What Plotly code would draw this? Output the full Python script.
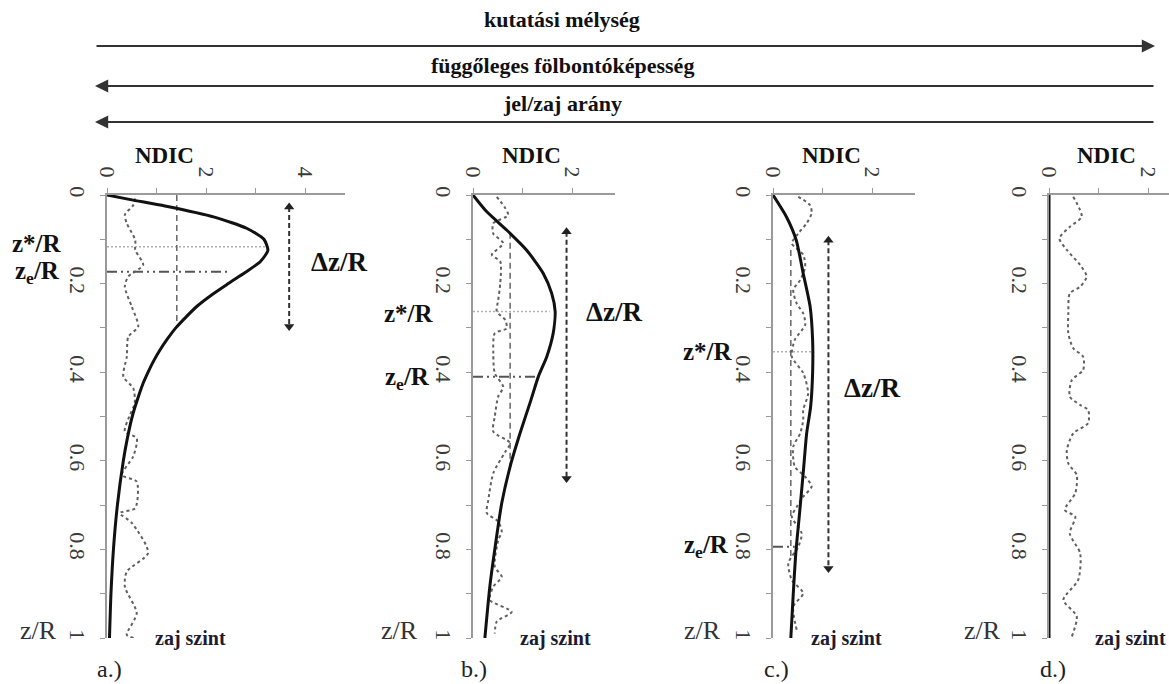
import plotly.graph_objects as go

# ---------------- data (z/R depth vs NDIC) ----------------
# a.) shallow, sharp anomaly
a_z = [0, 0.011, 0.025, 0.05, 0.075, 0.1, 0.125, 0.15, 0.175, 0.2, 0.225, 0.25,
       0.275, 0.3, 0.325, 0.35, 0.375, 0.4, 0.425, 0.45, 0.5, 0.55, 0.6, 0.7, 0.8,
       0.9, 1.0]
a_sig = [0, 0.5, 1.17, 2.17, 2.82, 3.17, 3.25, 3.10, 2.79, 2.45, 2.12, 1.83,
         1.60, 1.39, 1.22, 1.07, 0.94, 0.83, 0.73, 0.65, 0.51, 0.41, 0.33, 0.21, 0.13,
         0.08, 0.05]
a_noise_z = [0.008, 0.023, 0.045, 0.064, 0.102, 0.124, 0.158, 0.184, 0.207, 0.252,
             0.297, 0.32, 0.365, 0.41, 0.436, 0.47, 0.50, 0.534, 0.549, 0.59,
             0.632, 0.647, 0.707, 0.718, 0.74, 0.808, 0.85, 0.884, 0.944, 0.993, 1.0]
a_noise = [0.57, 0.53, 0.36, 0.40, 0.57, 0.57, 0.73, 0.43, 0.36, 0.50,
           0.63, 0.43, 0.40, 0.33, 0.53, 0.56, 0.45, 0.36, 0.60, 0.53,
           0.30, 0.60, 0.57, 0.26, 0.50, 0.83, 0.40, 0.36, 0.60, 0.40, 0.55]
a_zstar, a_zstar_x = 0.117, 3.2
a_ze, a_ze_x = 0.173, 2.48
a_half, a_half_z = 1.41, [0.0, 0.297]
a_dz_x, a_dz = 3.68, [0.027, 0.297]

# b.)
b_z = [0, 0.038, 0.079, 0.124, 0.177, 0.222, 0.263, 0.312, 0.365, 0.41, 0.463,
       0.538, 0.613, 0.696, 0.80, 0.884, 1.0]
b_sig = [0, 0.28, 0.68, 1.08, 1.42, 1.59, 1.66, 1.62, 1.49, 1.32, 1.17,
         0.95, 0.75, 0.58, 0.44, 0.34, 0.24]
b_noise_z = [0.004, 0.045, 0.064, 0.087, 0.109, 0.135, 0.15, 0.2, 0.237, 0.263,
             0.282, 0.301, 0.312, 0.357, 0.402, 0.433, 0.455, 0.5, 0.534, 0.56,
             0.58, 0.628, 0.688, 0.718, 0.737, 0.76, 0.779, 0.839, 0.862, 0.884,
             0.914, 0.941, 0.963, 0.99]
b_noise = [0.48, 0.71, 0.41, 0.41, 0.61, 0.38, 0.55, 0.55, 0.51, 0.48,
           0.65, 0.68, 0.44, 0.41, 0.44, 0.61, 0.51, 0.44, 0.41, 0.75,
           0.65, 0.41, 0.31, 0.28, 0.51, 0.58, 0.51, 0.44, 0.58, 0.41,
           0.34, 0.78, 0.48, 0.44]
b_zstar, b_zstar_x = 0.263, 1.55
b_ze, b_ze_x = 0.41, 1.32
b_half, b_half_z = 0.75, [0.085, 0.61]
b_dz_x, b_dz = 1.89, [0.083, 0.64]

# c.)
c_z = [0, 0.049, 0.102, 0.177, 0.252, 0.327, 0.402, 0.478, 0.538, 0.628, 0.726,
       0.809, 0.899, 1.0]
c_sig = [0, 0.27, 0.47, 0.61, 0.75, 0.80, 0.80, 0.76, 0.68, 0.61, 0.53,
         0.46, 0.41, 0.36]
c_noise_z = [0.004, 0.023, 0.041, 0.064, 0.087, 0.109, 0.135, 0.162, 0.192, 0.214,
             0.245, 0.267, 0.293, 0.327, 0.365, 0.402, 0.448, 0.485, 0.508, 0.538,
             0.568, 0.613, 0.636, 0.658, 0.681, 0.704, 0.726, 0.764, 0.794, 0.831,
             0.869, 0.899, 0.929, 0.982]
c_noise = [0.51, 0.75, 0.78, 0.68, 0.51, 0.38, 0.61, 0.65, 0.55, 0.41,
           0.48, 0.61, 0.65, 0.44, 0.38, 0.61, 0.71, 0.61, 0.61, 0.55,
           0.41, 0.44, 0.65, 0.78, 0.61, 0.48, 0.38, 0.58, 0.51, 0.31,
           0.38, 0.61, 0.41, 0.48]
c_zstar, c_zstar_x = 0.354, 0.8
c_ze, c_ze_x = 0.794, 0.44
c_half, c_half_z = 0.36, [0.124, 0.82]
c_dz_x, c_dz = 1.12, [0.102, 0.843]

# d.) no anomaly, noise only
d_z = [0, 1.0]
d_sig = [0, 0]
d_noise_z = [0.004, 0.049, 0.072, 0.098, 0.124, 0.158, 0.184, 0.207, 0.222, 0.267,
             0.312, 0.346, 0.365, 0.395, 0.418, 0.455, 0.474, 0.485, 0.515, 0.538,
             0.576, 0.606, 0.632, 0.673, 0.711, 0.726, 0.764, 0.809, 0.869, 0.914,
             0.951, 0.997]
d_noise = [0.49, 0.66, 0.42, 0.21, 0.36, 0.63, 0.76, 0.63, 0.42, 0.39,
           0.39, 0.49, 0.69, 0.69, 0.46, 0.42, 0.63, 0.79, 0.79, 0.49,
           0.36, 0.39, 0.56, 0.53, 0.32, 0.53, 0.42, 0.63, 0.59, 0.29,
           0.56, 0.46]

z_ticks = [0, 0.1, 0.2, 0.3, 0.4, 0.5, 0.6, 0.7, 0.8, 0.9, 1.0]
z_ticktext = ["0", " ", "0.2", " ", "0.4", " ", "0.6", " ", "0.8", " ", "1"]
panel_letters = ["a.)", "b.)", "c.)", "d.)"]
arrow_titles = ["kutatási mélység", "függőleges fölbontóképesség", "jel/zaj arány"]

# ---------------- page geometry (pixels) ----------------
W, H = 1169, 684
SCALE = 49.5                 # px per NDIC unit
TOP, BOTTOM = 195, 638       # z/R = 0 and z/R = 1
origins = [107, 473, 773, 1049]
ends = [345, 615, 915, 1169]


def px(x):
    return x / W


def py(y):
    return 1 - y / H


SERIF = "Times New Roman, Liberation Serif, serif"
fig = go.Figure()

panels = [
    dict(z=a_z, s=a_sig, nz=a_noise_z, n=a_noise, zs=a_zstar, zsx=a_zstar_x,
         ze=a_ze, zex=a_ze_x, hx=a_half, hz=a_half_z, dx=a_dz_x, dz=a_dz, xt=[0, 1, 2, 3, 4]),
    dict(z=b_z, s=b_sig, nz=b_noise_z, n=b_noise, zs=b_zstar, zsx=b_zstar_x,
         ze=b_ze, zex=b_ze_x, hx=b_half, hz=b_half_z, dx=b_dz_x, dz=b_dz, xt=[0, 1, 2]),
    dict(z=c_z, s=c_sig, nz=c_noise_z, n=c_noise, zs=c_zstar, zsx=c_zstar_x,
         ze=c_ze, zex=c_ze_x, hx=c_half, hz=c_half_z, dx=c_dz_x, dz=c_dz, xt=[0, 1, 2]),
    dict(z=d_z, s=d_sig, nz=d_noise_z, n=d_noise, zs=None, xt=[0, 1, 2]),
]

for k, p in enumerate(panels, start=1):
    xa = "x" if k == 1 else f"x{k}"
    ya = "y" if k == 1 else f"y{k}"
    common = dict(xaxis=xa, yaxis=ya, showlegend=False, hoverinfo="skip", cliponaxis=False)

    if p["zs"] is not None:
        # z* level (dotted), z_e level (dash-dot), half-width guide (dashed)
        fig.add_trace(go.Scatter(x=[0, p["zsx"]], y=[p["zs"], p["zs"]], mode="lines",
                                 line=dict(color="#b0b0b0", width=1.5, dash="2px,2px"), **common))
        fig.add_trace(go.Scatter(x=[0, p["zex"]], y=[p["ze"], p["ze"]], mode="lines",
                                 line=dict(color="#555", width=2, dash="10px,4px,2px,4px,2px,4px"),
                                 **common))
        fig.add_trace(go.Scatter(x=[p["hx"], p["hx"]], y=p["hz"], mode="lines",
                                 line=dict(color="#666", width=1.5, dash="6px,4px"), **common))
        # Δz double arrow
        fig.add_trace(go.Scatter(x=[p["dx"], p["dx"]], y=p["dz"], mode="lines",
                                 line=dict(color="#333", width=2, dash="5px,3px"), **common))
        fig.add_trace(go.Scatter(x=[p["dx"], p["dx"]], y=p["dz"], mode="markers",
                                 marker=dict(symbol=["triangle-up", "triangle-down"], size=9,
                                             color="#222"), **common))

    # noise level
    fig.add_trace(go.Scatter(x=p["n"], y=p["nz"], mode="lines",
                             line=dict(color="#606060", width=2, dash="3px,3px", shape="spline",
                                       smoothing=0.7), **common))
    # NDIC curve
    fig.add_trace(go.Scatter(x=p["s"], y=p["z"], mode="lines",
                             line=dict(color="#111", width=3, shape="spline", smoothing=0.6),
                             **common))

    xr = (ends[k - 1] - origins[k - 1]) / SCALE
    fig.layout[f"xaxis{'' if k == 1 else k}"] = dict(
        domain=[px(origins[k - 1]), px(ends[k - 1])], range=[0, xr], side="top", anchor=ya,
        showline=True, linecolor="#9a9a9a", linewidth=1.5, ticks="outside", ticklen=5,
        tickcolor="#9a9a9a", tickwidth=1, tickvals=p["xt"],
        ticktext=[str(v) if v % 2 == 0 else " " for v in p["xt"]], tickangle=90,
        tickfont=dict(family=SERIF, size=22, color="#3a3a3a"), ticklabelstandoff=3,
        showgrid=False, zeroline=False, fixedrange=True, automargin=False)
    fig.layout[f"yaxis{'' if k == 1 else k}"] = dict(
        domain=[py(BOTTOM), py(TOP)], range=[1, 0], side="left", anchor=xa,
        showline=True, linecolor="#9a9a9a", linewidth=1.5, ticks="outside", ticklen=5,
        tickcolor="#9a9a9a", tickwidth=1, tickvals=z_ticks, ticktext=z_ticktext,
        tickangle=90, tickfont=dict(family=SERIF, size=22, color="#3a3a3a"),
        ticklabelstandoff=4, showgrid=False, zeroline=False, fixedrange=True,
        automargin=False)

# ---------------- text labels ----------------
ann = []


def label(x, y, text, size, bold=True, color="#111"):
    ann.append(dict(x=px(x), y=py(y), xref="paper", yref="paper",
                    text=f"<b>{text}</b>" if bold else text,
                    showarrow=False, xanchor="center", yanchor="middle",
                    font=dict(family=SERIF, size=size, color=color)))


ndic_x = [165, 531, 831, 1106]
zR_x = [38, 399, 702, 982]
zaj_x = [190, 555, 846, 1130]
letter_x = [109, 474, 776, 1053]
for i in range(4):
    label(ndic_x[i], 155, "NDIC", 23)
    label(zR_x[i], 630, "z/R", 26, bold=False, color="#333")
    label(zaj_x[i], 638, "zaj szint", 20, color="#1c1c30")
    label(letter_x[i], 669, panel_letters[i], 24, bold=False, color="#222")

label(37, 244, "z*/R", 25)
label(37, 272, "z<sub>e</sub>/R", 25)
label(339, 262, "Δz/R", 27)
label(409, 313, "z*/R", 25)
label(407, 378, "z<sub>e</sub>/R", 25)
label(614, 312, "Δz/R", 27)
label(708, 351, "z*/R", 25)
label(706, 546, "z<sub>e</sub>/R", 25)
label(872, 388, "Δz/R", 27)

# headline arrows
title_y = [20, 66, 103]
arrow_y = [46, 86, 122]
for i, t in enumerate(arrow_titles):
    label(562, title_y[i], t, 22)
    head_x, tail_dx = (1155, -1060) if i == 0 else (95, 1060)
    ann.append(dict(x=px(head_x), y=py(arrow_y[i]), xref="paper", yref="paper", text="",
                    showarrow=True, ax=tail_dx, ay=0, arrowhead=2, arrowsize=1.2,
                    arrowwidth=2.2, arrowcolor="#333", standoff=0, startstandoff=0))

fig.update_layout(width=W, height=H,
                  margin=dict(l=0, r=0, t=0, b=0, pad=0, autoexpand=False),
                  paper_bgcolor="white", plot_bgcolor="white", annotations=ann,
                  font=dict(family=SERIF))

fig.write_html("out.html")
